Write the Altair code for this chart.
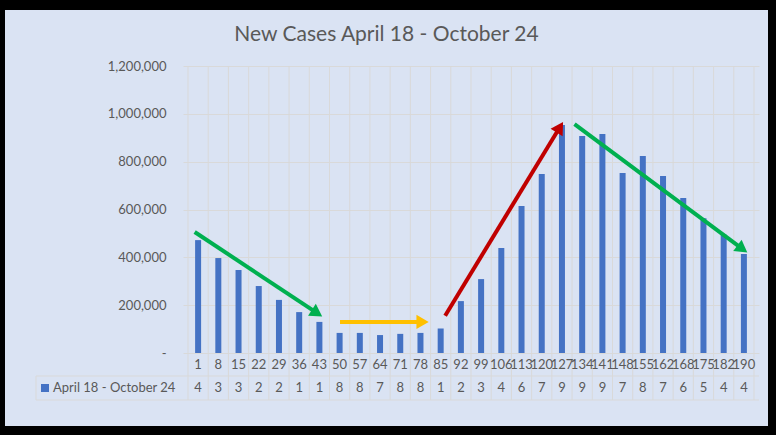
import math
import altair as alt
import pandas as pd

# ---------------- data ----------------
days = [1, 8, 15, 22, 29, 36, 43, 50, 57, 64, 71, 78, 85, 92, 99, 106,
        113, 120, 127, 134, 141, 148, 155, 162, 168, 175, 182, 190]
new_cases = [472000, 397000, 347000, 280000, 222000, 171000, 130000, 84000,
             84000, 75000, 80000, 84000, 102000, 217000, 309000, 439000,
             615000, 748000, 953000, 907000, 916000, 753000, 824000, 740000,
             648000, 563000, 495000, 414000]
series_name = "April 18 - October 24"
title_text = "New Cases April 18 - October 24"
y_ticks = [0, 200000, 400000, 600000, 800000, 1000000, 1200000]

# trend arrows (x in category units, y in cases)
arrow_colors = ["#00B050", "#FFC000", "#C00000", "#00B050"]
arrow_x0 = [0.33, 7.52, 12.72, 19.12]
arrow_y0 = [506000, 130000, 156000, 957000]
arrow_x1 = [6.65, 11.92, 18.56, 27.68]
arrow_y1 = [152000, 130000, 967000, 419000]

# ---------------- styling ----------------
W, H = 576, 287
PAD_L, PAD_T, PAD_R, PAD_B = 183, 66, 17, 82
XMAX = len(days)
YMAX = 1200000
BAR = "#4472C4"
GRID = "#D9D9D9"
TXT = "#595959"
BG = "#DAE3F3"
FONT = "Lato"

px_x = W / XMAX
px_y = H / YMAX

xscale = alt.Scale(domain=[0, XMAX], nice=False, zero=False)
yscale = alt.Scale(domain=[0, YMAX], nice=False, zero=False)
yaxis = alt.Axis(values=y_ticks,
                 labelExpr="datum.value == 0 ? '-\u00a0\u00a0' : format(datum.value, ',')",
                 grid=True, gridColor=GRID, gridWidth=1, domain=False, ticks=False,
                 labelPadding=17, labelFont=FONT, labelFontSize=13, labelColor=TXT,
                 title=None)

bars_df = pd.DataFrame({
    "pos": [i + 0.5 for i in range(len(days))],
    "day": [str(d) for d in days],
    "cases": new_cases,
    "digit": [str(v)[0] for v in new_cases],
})
bounds_df = pd.DataFrame({"b": list(range(XMAX + 1))})
one = pd.DataFrame({"k": [0]})

# arrows: shorten line under head, compute head center and rotation
HEAD = 13.0
rows = []
for c, x0, y0, x1, y1 in zip(arrow_colors, arrow_x0, arrow_y0, arrow_x1, arrow_y1):
    dxp = (x1 - x0) * px_x
    dyp = -(y1 - y0) * px_y
    L = math.hypot(dxp, dyp)
    ux, uy = dxp / L, dyp / L
    ang = math.degrees(math.atan2(ux, -uy)) % 360
    lx = x1 - ux * HEAD * 0.7 / px_x
    ly = y1 + uy * HEAD * 0.7 / px_y
    hx = x1 - ux * HEAD * 0.5 / px_x
    hy = y1 + uy * HEAD * 0.5 / px_y
    rows.append(dict(color=c, x0=x0, y0=y0, xl=lx, yl=ly, hx=hx, hy=hy, angle=ang))
arrows_df = pd.DataFrame(rows)

# ---------------- layers ----------------
vgrid = alt.Chart(bounds_df).mark_rule(color=GRID, strokeWidth=1).encode(
    x=alt.X("b:Q", scale=xscale, axis=None),
    y=alt.value(0), y2=alt.value(334))

bars = alt.Chart(bars_df).mark_bar(size=6, color=BAR).encode(
    x=alt.X("pos:Q", scale=xscale, axis=None),
    y=alt.Y("cases:Q", scale=yscale, axis=yaxis))

cat_labels = alt.Chart(bars_df).mark_text(font=FONT, fontSize=13, color=TXT,
                                          baseline="middle").encode(
    x=alt.X("pos:Q", scale=xscale, axis=None), y=alt.value(299), text="day:N")

digit_labels = alt.Chart(bars_df).mark_text(font=FONT, fontSize=13, color=TXT,
                                            baseline="middle").encode(
    x=alt.X("pos:Q", scale=xscale, axis=None), y=alt.value(322), text="digit:N")

tline1 = alt.Chart(one).mark_rule(color=GRID).encode(
    x=alt.value(-147), x2=alt.value(W), y=alt.value(310))
tline2 = alt.Chart(one).mark_rule(color=GRID).encode(
    x=alt.value(-147), x2=alt.value(W), y=alt.value(334))
tline3 = alt.Chart(one).mark_rule(color=GRID).encode(
    x=alt.value(-147), y=alt.value(310), y2=alt.value(334))

leg_sq = alt.Chart(one).mark_square(size=64, color=BAR, opacity=1).encode(
    x=alt.value(-138), y=alt.value(322))
leg_txt = alt.Chart(one).mark_text(font=FONT, fontSize=13, color=TXT, align="left",
                                   baseline="middle").encode(
    x=alt.value(-130), y=alt.value(322), text=alt.value(series_name))

arrow_lines = alt.Chart(arrows_df).mark_rule(strokeWidth=4).encode(
    x=alt.X("x0:Q", scale=xscale, axis=None),
    y=alt.Y("y0:Q", scale=yscale, axis=yaxis),
    x2="xl:Q", y2="yl:Q",
    color=alt.Color("color:N", scale=None))
arrow_heads = alt.Chart(arrows_df).mark_point(shape="triangle-up", filled=True,
                                              size=200, opacity=1).encode(
    x=alt.X("hx:Q", scale=xscale, axis=None),
    y=alt.Y("hy:Q", scale=yscale, axis=yaxis),
    angle=alt.Angle("angle:Q", scale=None),
    color=alt.Color("color:N", scale=None))

title = alt.Chart(one).mark_text(font=FONT, fontSize=21, color=TXT, align="center",
                                 baseline="alphabetic").encode(
    x=alt.value(203.5), y=alt.value(-25), text=alt.value(title_text))

frame = [
    alt.Chart(one).mark_rect(color="#000000").encode(
        x=alt.value(-PAD_L), x2=alt.value(W + PAD_R), y=alt.value(-PAD_T), y2=alt.value(-56)),
    alt.Chart(one).mark_rect(color="#000000").encode(
        x=alt.value(-PAD_L), x2=alt.value(-178), y=alt.value(-PAD_T), y2=alt.value(H + PAD_B)),
    alt.Chart(one).mark_rect(color="#000000").encode(
        x=alt.value(585), x2=alt.value(W + PAD_R), y=alt.value(-PAD_T), y2=alt.value(H + PAD_B)),
    alt.Chart(one).mark_rect(color="#000000").encode(
        x=alt.value(-PAD_L), x2=alt.value(W + PAD_R), y=alt.value(360), y2=alt.value(H + PAD_B)),
]

chart = alt.layer(
    vgrid, bars, cat_labels, digit_labels, tline1, tline2, tline3,
    leg_sq, leg_txt, arrow_lines, arrow_heads, title, *frame
).properties(
    width=W, height=H,
    autosize=alt.AutoSizeParams(type="none"),
    padding={"left": PAD_L, "top": PAD_T, "right": PAD_R, "bottom": PAD_B},
    background=BG,
).configure_view(stroke=None)

chart.save("out.html", embed_options={"renderer": "svg", "actions": False})
